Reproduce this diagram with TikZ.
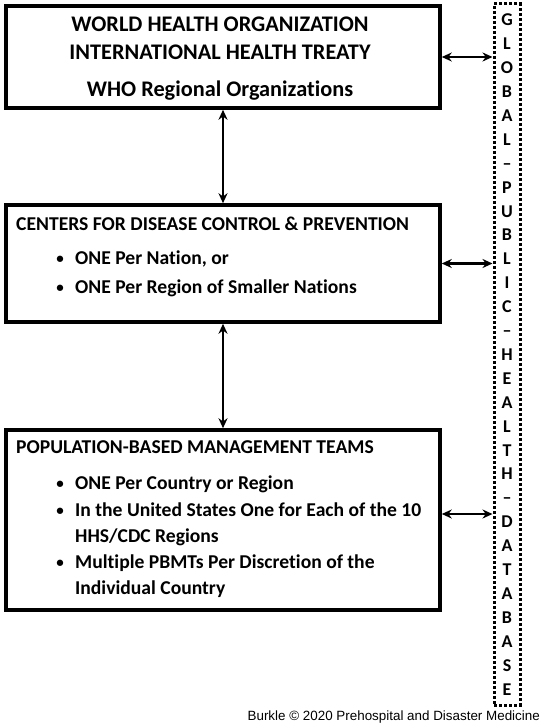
\documentclass[tikz,border=0pt]{standalone}
\usepackage{fontspec}
\setmainfont{Carlito}[RawFeature={-liga}]
\newfontfamily\creditfont{Liberation Sans}
\usetikzlibrary{arrows.meta}

\begin{document}
\begin{tikzpicture}[x=1pt, y=-1pt, >={Stealth[length=10pt, width=9pt]},
    box/.style={draw, line width=3.5pt, minimum width=434pt, inner sep=0pt},
    link/.style={<->, line width=2.2pt},
    bigline/.style={font=\fontsize{22.3}{22.3}\selectfont\bfseries, inner sep=0pt},
    row/.style={anchor=base west, font=\fontsize{19.6}{19.6}\selectfont\bfseries, inner sep=0pt},
    dot/.style={anchor=base, font=\fontsize{15}{15}\selectfont\bfseries, inner sep=0pt, yshift=1pt}]
  \useasboundingbox (0,0) rectangle (546,727);
  % ---------------------------------------------------------------- the three levels
  \node[box, minimum height=102pt] (who) at (223,57) {};
  \node[box, minimum height=117pt] (cdc) at (223,263.5) {};
  \node[box, minimum height=180pt] (pbmt) at (223,520) {};
  % WHO
  \node[bigline] (whoA) at (220,24) {WORLD HEALTH ORGANIZATION};
  \node[bigline] (whoB) at (220,52) {INTERNATIONAL HEALTH TREATY};
  \node[bigline] (whoC) at (220,91) {WHO Regional Organizations};
  % CDC
  \node[row] (cdcH) at (16,230.5) {CENTERS FOR DISEASE CONTROL \& PREVENTION};
  \node[dot] (cdcD1) at (60,264.5) {\textbullet};
  \node[row] (cdc1) at (75,264.5) {ONE Per Nation, or};
  \node[dot] (cdcD2) at (60,293.5) {\textbullet};
  \node[row] (cdc2) at (75,293.5) {ONE Per Region of Smaller Nations};
  % PBMT
  \node[row] (pbmtH) at (16,453.5) {POPULATION-BASED MANAGEMENT TEAMS};
  \node[dot] (pbmtD1) at (60,489.5) {\textbullet};
  \node[row] (pbmt1) at (75,489.5) {ONE Per Country or Region};
  \node[dot] (pbmtD2) at (60,516.5) {\textbullet};
  \node[row] (pbmt2) at (75,516.5) {In the United States One for Each of the 10};
  \node[row] (pbmt2b) at (75,542.5) {HHS/CDC Regions};
  \node[dot] (pbmtD3) at (60,568.5) {\textbullet};
  \node[row] (pbmt3) at (75,568.5) {Multiple PBMTs Per Discretion of the};
  \node[row] (pbmt3b) at (75,594.5) {Individual Country};
  % ---------------------------------------------------------------- the database column
  \node[draw, line width=3pt, dash pattern=on 3pt off 2pt, minimum width=26pt,
        minimum height=701pt, inner sep=0pt, align=center,
        font=\fontsize{18}{23.9}\selectfont\bfseries] (db) at (507,354.5)
    {G\\L\\O\\B\\A\\L\\–\\P\\U\\B\\L\\I\\C\\–\\H\\E\\A\\L\\T\\H\\–\\D\\A\\T\\A\\B\\A\\S\\E};
  % ---------------------------------------------------------------- links
  \draw[link] (who.south) -- (cdc.north);
  \draw[link] (cdc.south) -- (pbmt.north);
  \draw[link] (who.east) -- (who.east -| db.west);
  \draw[link] (cdc.east) -- (cdc.east -| db.west);
  \draw[link] ([yshift=6pt]pbmt.east) -- ([yshift=6pt]pbmt.east -| db.west);
  % credit
  \node[anchor=base east, inner sep=0pt, font=\creditfont\fontsize{13.4}{13.4}\selectfont] (credit) at (540,720)
    {Burkle © 2020 Prehospital and Disaster Medicine};
\end{tikzpicture}
\end{document}
